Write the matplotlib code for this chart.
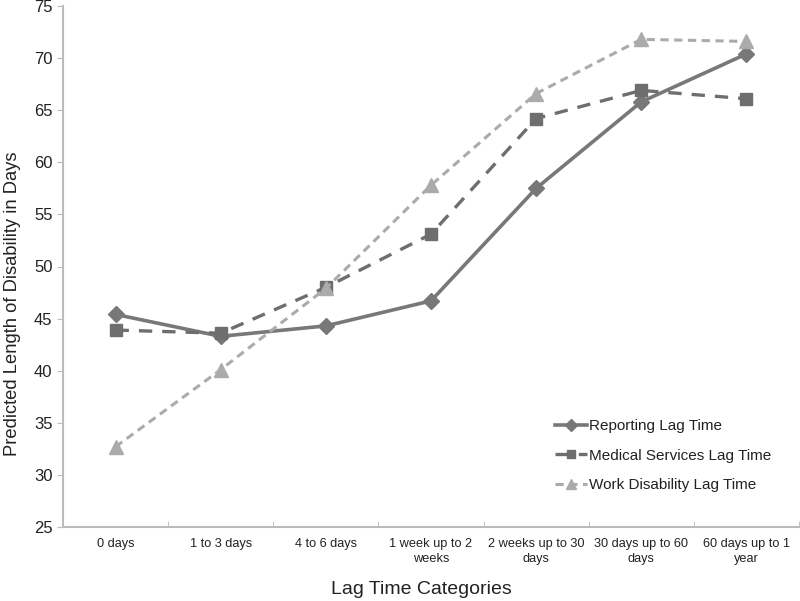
import matplotlib
matplotlib.use("Agg")
import matplotlib.pyplot as plt
import numpy as np

plt.rcParams['font.family'] = ['Liberation Sans', 'DejaVu Sans']

categories = ["0 days", "1 to 3 days", "4 to 6 days", "1 week up to 2\nweeks",
              "2 weeks up to 30\ndays", "30 days up to 60\ndays", "60 days up to 1\nyear"]
reporting = [45.4, 43.3, 44.3, 46.7, 57.5, 65.8, 70.4]
medical = [43.9, 43.6, 48.0, 53.1, 64.2, 66.9, 66.1]
work = [32.7, 40.1, 47.9, 57.8, 66.6, 71.8, 71.6]
series_names = ["Reporting Lag Time", "Medical Services Lag Time", "Work Disability Lag Time"]

W, H = 800, 601
fig = plt.figure(figsize=(8, 6.01), dpi=100)
ax = fig.add_axes([63 / W, 1 - 527 / H, (799 - 63) / W, (527 - 6) / H])

x = np.arange(len(categories))
ax.plot(x, reporting, color='#787878', lw=2.6, marker='D', ms=8.5, label=series_names[0])
ax.plot(x, medical, color='#6e6e6e', lw=2.4, ls=(0, (4, 3)), marker='s', ms=8.5, label=series_names[1])
ax.plot(x, work, color='#ababab', lw=2.2, ls=(0, (2.7, 1.8)), marker='^', ms=9.5, label=series_names[2])

ax.set_xlim(-0.5, len(categories) - 0.5)
ax.set_ylim(25, 75)
ax.set_yticks(np.arange(25, 76, 5))
ax.set_xticks(x)
ax.set_xticklabels(categories, fontsize=9.2, color='#222222', linespacing=1.3)
ax.set_xticks(np.arange(-0.5, len(categories), 1), minor=True)
ax.tick_params(axis='x', which='major', length=0, pad=8)
ax.tick_params(axis='x', which='minor', length=4, direction='in', color='#bbbbbb')
ax.tick_params(axis='y', length=4, direction='out', color='#bbbbbb', labelsize=12, labelcolor='#222222')

for s in ['top', 'right']:
    ax.spines[s].set_visible(False)
for s in ['left', 'bottom']:
    ax.spines[s].set_color('#bbbbbb')
    ax.spines[s].set_linewidth(1.5)

fig.text(13 / W, 1 - 304 / H, "Predicted Length of Disability in Days", fontsize=13.2,
         color='#222222', rotation=90, ha='center', va='center')
fig.text(421 / W, 1 - 590 / H, "Lag Time Categories", fontsize=14, color='#222222',
         ha='center', va='center')

leg = ax.legend(loc='upper left', bbox_to_anchor=(555 / W, 1 - 419 / H), bbox_transform=fig.transFigure,
                frameon=False, fontsize=11, borderpad=0, borderaxespad=0,
                handlelength=2.1, handletextpad=0.15, labelspacing=1.03, markerscale=0.75)
for t in leg.get_texts():
    t.set_color('#222222')

fig.savefig("out.png", dpi=100)
